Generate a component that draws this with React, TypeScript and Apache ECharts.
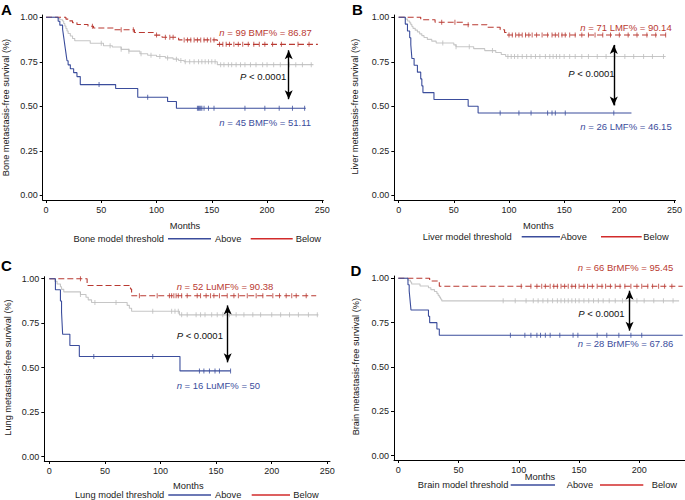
import React, { useEffect, useRef } from "react";
import * as echarts from "echarts";

type Pt = [number, number];

// ---- tick labels ----
const xTicksFull = [0, 50, 100, 150, 200, 250];
const xTicksD = [0, 50, 100, 150, 200];
const yTicks = [0, 0.25, 0.5, 0.75, 1];

// ---- Panel A: bone ----
const blueA: Pt[] = [[0, 1], [11, 0.978], [12.5, 0.956], [15, 0.933], [15.5, 0.911], [16, 0.889], [16.5, 0.867], [17, 0.844], [17.5, 0.822], [18, 0.8], [18.5, 0.778], [19, 0.756], [20, 0.733], [22, 0.711], [25, 0.689], [28, 0.667], [31, 0.622], [63, 0.6], [83, 0.551], [110, 0.527], [118, 0.489], [235, 0.489]];
const redA: Pt[] = [[0, 1], [18, 0.99], [21, 0.98], [24, 0.97], [28, 0.96], [38, 0.95], [43, 0.94], [62, 0.93], [80, 0.915], [97, 0.9], [105, 0.888], [120, 0.873], [155, 0.848], [246, 0.848]];
const grayA: Pt[] = [[0, 1], [11, 0.993], [12.5, 0.986], [15, 0.979], [16, 0.965], [17, 0.951], [18, 0.937], [19, 0.923], [20, 0.909], [22, 0.895], [24, 0.881], [26, 0.868], [40, 0.854], [52, 0.84], [60, 0.833], [68, 0.82], [75, 0.81], [85, 0.795], [92, 0.787], [100, 0.78], [108, 0.772], [115, 0.765], [120, 0.757], [125, 0.75], [155, 0.734], [242, 0.734]];
const blueCensA = [48, 92, 137, 138, 139, 140, 141, 143, 147, 152, 180, 198, 211, 223, 234];
const redCensA = [42, 68, 79, 100, 108, 112, 115, 125, 128, 131, 134, 137, 140, 143, 146, 149, 152, 157, 160, 163, 166, 170, 174, 178, 183, 188, 193, 198, 205, 213, 228, 238];
const grayCensA = [50, 58, 68, 75, 86, 95, 103, 110, 118, 122, 126, 130, 134, 138, 141, 144, 147, 150, 153, 158, 161, 165, 168, 172, 176, 180, 185, 190, 196, 200, 206, 212, 220, 226, 232, 240];

// ---- Panel B: liver ----
const blueB: Pt[] = [[0, 1], [6, 0.962], [8, 0.923], [10, 0.885], [11, 0.846], [11.5, 0.808], [12, 0.769], [14, 0.731], [17, 0.692], [20, 0.654], [21, 0.615], [22, 0.577], [32, 0.538], [63, 0.5], [72, 0.462], [211, 0.462]];
const redB: Pt[] = [[0, 1], [20, 0.986], [33, 0.972], [58, 0.958], [80, 0.944], [92, 0.93], [96, 0.915], [98, 0.901], [243, 0.901]];
const grayB: Pt[] = [[0, 1], [6, 0.99], [8, 0.979], [10, 0.969], [11, 0.959], [12, 0.948], [13, 0.938], [15, 0.928], [17, 0.918], [19, 0.907], [21, 0.897], [23, 0.887], [26, 0.876], [30, 0.866], [34, 0.856], [50, 0.845], [52, 0.835], [68, 0.824], [78, 0.813], [88, 0.802], [93, 0.791], [97, 0.78], [242, 0.78]];
const blueCensB = [92, 109, 120, 135, 139, 142, 151, 195];
const redCensB = [39, 51, 63, 100, 103, 106, 109, 112, 115, 118, 121, 125, 130, 135, 139, 142, 145, 148, 151, 155, 160, 166, 172, 178, 185, 192, 200, 208, 216, 225, 233, 242];
const grayCensB = [40, 52, 64, 85, 99, 102, 105, 108, 112, 116, 120, 124, 128, 133, 137, 140, 143, 146, 150, 155, 160, 166, 172, 180, 188, 196, 205, 213, 222, 230, 240];

// ---- Panel C: lung ----
const blueC: Pt[] = [[0, 1], [5.5, 0.9375], [10, 0.875], [11, 0.8125], [11.5, 0.75], [12, 0.6875], [18.5, 0.625], [27, 0.5625], [117.5, 0.482], [163, 0.482]];
const redC: Pt[] = [[0, 1], [34, 0.962], [73, 0.942], [74, 0.904], [240, 0.904]];
const grayC: Pt[] = [[0, 1], [5, 0.985], [7, 0.97], [10, 0.955], [11, 0.94], [13, 0.926], [28, 0.911], [33, 0.896], [35, 0.881], [38, 0.866], [70, 0.85], [72, 0.834], [74, 0.817], [117, 0.797], [242, 0.797]];
const blueCensC = [40, 93, 135, 139, 144, 149, 153, 163];
const redCensC = [28, 81, 97, 108, 110, 112, 114, 116, 119, 124, 133, 136, 141, 145, 148, 153, 160, 166, 170, 178, 186, 192, 201, 207, 213, 218, 222, 231];
const grayCensC = [28, 41, 60, 93, 110, 113, 116, 119, 124, 132, 136, 140, 146, 151, 156, 162, 168, 175, 183, 190, 200, 208, 216, 224, 233, 241];

// ---- Panel D: brain ----
const blueD: Pt[] = [[0, 1], [8, 0.964], [9, 0.929], [9.5, 0.893], [10, 0.857], [10.5, 0.821], [25, 0.786], [26, 0.75], [32, 0.714], [34, 0.679], [236, 0.679]];
const redD: Pt[] = [[0, 1], [26, 0.985], [34, 0.955], [236, 0.955]];
const grayD: Pt[] = [[0, 1], [8, 0.989], [10, 0.979], [11, 0.968], [18, 0.957], [25, 0.947], [27, 0.936], [30, 0.926], [32, 0.915], [33, 0.904], [34, 0.894], [35, 0.883], [36, 0.873], [233, 0.873]];
const blueCensD = [93, 105, 110, 115, 118, 122, 126, 134, 145, 149, 165, 173, 183, 193, 202];
const redCensD = [102, 110, 115, 119, 122, 126, 129, 132, 135, 138, 141, 144, 147, 150, 154, 157, 161, 165, 169, 172, 176, 180, 184, 188, 193, 198, 202, 207, 211, 216, 221, 227];
const grayCensD = [87, 97, 106, 112, 116, 120, 124, 128, 132, 135, 138, 141, 144, 147, 150, 154, 158, 162, 166, 170, 175, 180, 186, 192, 198, 204, 212, 220, 228];

// ---- texts ----
const panelLetters = ["A", "B", "C", "D"];
const yTitles = [
  "Bone metastasis-free survival (%)",
  "Liver metastasis-free survival (%)",
  "Lung metastasis-free survival (%)",
  "Brain metastasis-free survival (%)",
];
const legendTitles = ["Bone model threshold", "Liver model threshold", "Lung model threshold", "Brain model threshold"];
const redNotes = [" = 99 BMF% = 86.87", " = 71 LMF% = 90.14", " = 52 LuMF% = 90.38", " = 66 BrMF% = 95.45"];
const blueNotes = [" = 45 BMF% = 51.11", " = 26 LMF% = 46.15", " = 16 LuMF% = 50", " = 28 BrMF% = 67.86"];
// arrow: [months, top value, bottom value]
const arrows: [number, number, number][] = [
  [219.6, 0.815, 0.54],
  [195, 0.845, 0.505],
  [160.4, 0.85, 0.53],
  [191.9, 0.93, 0.705],
];

const BLUE = "#3B4D9C";
const RED = "#B93A32";
const LEG_RED = "#D22B2B";
const GRAY = "#C6C6C6";
const FONT = "'Liberation Sans', Arial, Helvetica, sans-serif";

// layout (pixels) per panel
const layout = [
  {
    grid: { left: 42.7, top: 15, width: 280.6, height: 185 }, xMin: -3.0, xMax: 250.9, yMin: -0.0264, yMax: 1.013, xt: xTicksFull,
    letter: [1, 9], yTitle: [5.5, 107.5], months: [185, 225.7], legY: 238.7,
    leg: { titleRight: 164, b1: 168, b2: 211, aboveX: 215, r1: 250.7, r2: 292.7, belowX: 295.7 },
    redNote: { x: 311.7, y: 32.3, align: "right" }, blueNote: { x: 311, y: 122.7, align: "right" }, p: { x: 240, y: 76 },
  },
  {
    grid: { left: 394.3, top: 15, width: 284, height: 185 }, xMin: -3.95, xMax: 250.9, yMin: -0.0264, yMax: 1.013, xt: xTicksFull,
    letter: [352, 9.5], yTitle: [354.5, 106.7], months: [538.3, 225.7], legY: 236.7,
    leg: { titleRight: 511.7, b1: 521.7, b2: 560, aboveX: 560.5, r1: 601, r2: 641.7, belowX: 643.3 },
    redNote: { x: 671.7, y: 27.3, align: "right" }, blueNote: { x: 671.7, y: 126, align: "right" }, p: { x: 568.3, y: 73.3 },
  },
  {
    grid: { left: 44.3, top: 276.7, width: 285.7, height: 184.3 }, xMin: -4.5, xMax: 252.4, yMin: -0.0242, yMax: 1.0112, xt: xTicksFull,
    letter: [1, 265.3], yTitle: [7.5, 367.5], months: [188.3, 486], legY: 495,
    leg: { titleRight: 164.3, b1: 168.3, b2: 211, aboveX: 215, r1: 251.7, r2: 290, belowX: 293.3 },
    redNote: { x: 176.7, y: 286.7, align: "left" }, blueNote: { x: 176.7, y: 385, align: "left" }, p: { x: 176.7, y: 335 },
  },
  {
    grid: { left: 394, top: 276, width: 291, height: 184 }, xMin: -3.6, xMax: 237.9, yMin: -0.0242, yMax: 1.013, xt: xTicksD,
    letter: [350.5, 270.5], yTitle: [356, 366.7], months: [540, 476.7], legY: 485,
    leg: { titleRight: 508.3, b1: 510.7, b2: 555, aboveX: 566.7, r1: 600, r2: 643.3, belowX: 651.7 },
    redNote: { x: 673.3, y: 267.7, align: "right" }, blueNote: { x: 673.3, y: 343.3, align: "right" }, p: { x: 578.3, y: 313.3 },
  },
];

const curves = [
  { blue: blueA, red: redA, gray: grayA, bc: blueCensA, rc: redCensA, gc: grayCensA },
  { blue: blueB, red: redB, gray: grayB, bc: blueCensB, rc: redCensB, gc: grayCensB },
  { blue: blueC, red: redC, gray: grayC, bc: blueCensC, rc: redCensC, gc: grayCensC },
  { blue: blueD, red: redD, gray: grayD, bc: blueCensD, rc: redCensD, gc: grayCensD },
];

function stepAt(curve: Pt[], t: number): number {
  let s = curve[0][1];
  for (const p of curve) {
    if (p[0] <= t) s = p[1];
    else break;
  }
  return s;
}

function noteText(x: number, y: number, align: string, lead: string, rest: string, color: string) {
  return {
    type: "text",
    x,
    y,
    silent: true,
    style: {
      text: `{i|${lead}}{r|${rest}}`,
      align,
      textAlign: align,
      verticalAlign: "middle",
      textVerticalAlign: "middle",
      fill: color,
      font: `9.5px ${FONT}`,
      rich: {
        i: { fontStyle: "italic", fontSize: 9.5, fontFamily: FONT, fill: color },
        r: { fontSize: 9.5, fontFamily: FONT, fill: color },
      },
    },
  };
}

function plainText(x: number, y: number, text: string, opts: any = {}) {
  return {
    type: "text",
    x,
    y,
    rotation: opts.rotation || 0,
    silent: true,
    style: {
      text,
      align: opts.align || "left",
      textAlign: opts.align || "left",
      verticalAlign: opts.va || "middle",
      textVerticalAlign: opts.va || "middle",
      fill: opts.fill || "#222",
      font: opts.font || `9.3px ${FONT}`,
    },
  };
}

export default function App() {
  const ref = useRef<HTMLDivElement>(null);

  useEffect(() => {
    if (!ref.current) return;
    const chart = echarts.init(ref.current, undefined, { renderer: "svg" });

    const grids: any[] = [];
    const xAxes: any[] = [];
    const yAxes: any[] = [];
    const series: any[] = [];
    const graphics: any[] = [];

    layout.forEach((L, i) => {
      const C = curves[i];
      grids.push({ ...L.grid, containLabel: false });
      xAxes.push({
        type: "value",
        gridIndex: i,
        min: L.xMin,
        max: L.xMax,
        axisLine: { show: true, onZero: false, lineStyle: { color: "#000", width: 1 } },
        axisTick: { show: true, length: 3, customValues: L.xt, lineStyle: { color: "#000" } },
        axisLabel: { customValues: L.xt, fontSize: 9, fontFamily: FONT, color: "#222", margin: 5 },
        splitLine: { show: false },
      });
      yAxes.push({
        type: "value",
        gridIndex: i,
        min: L.yMin,
        max: L.yMax,
        axisLine: { show: true, onZero: false, lineStyle: { color: "#000", width: 1 } },
        axisTick: { show: true, length: 3, customValues: yTicks, lineStyle: { color: "#000" } },
        axisLabel: {
          customValues: yTicks,
          fontSize: 9,
          fontFamily: FONT,
          color: "#222",
          margin: 5,
          formatter: (v: number) => v.toFixed(2),
        },
        splitLine: { show: false },
      });

      const lineBase = { type: "line", xAxisIndex: i, yAxisIndex: i, step: "end", symbol: "none", silent: true, z: 3 };
      series.push({
        ...lineBase,
        name: "Overall",
        data: C.gray,
        lineStyle: { color: GRAY, width: 1.1 },
        z: 2,
        markLine: {
          silent: true,
          symbol: ["arrow", "arrow"],
          symbolSize: [6, 9],
          label: { show: false },
          lineStyle: { color: "#000", width: 1.4, type: "solid" },
          data: [[{ coord: [arrows[i][0], arrows[i][1]] }, { coord: [arrows[i][0], arrows[i][2]] }]],
        },
      });
      series.push({ ...lineBase, name: "Below", data: C.red, lineStyle: { color: RED, width: 1.1, type: [6, 3] } });
      series.push({ ...lineBase, name: "Above", data: C.blue, lineStyle: { color: BLUE, width: 1.1 } });

      const cens = (times: number[], curve: Pt[], color: string, z: number) => ({
        type: "scatter",
        xAxisIndex: i,
        yAxisIndex: i,
        silent: true,
        symbol: "rect",
        symbolSize: [1, 5],
        itemStyle: { color },
        z,
        data: times.map((t) => [t, stepAt(curve, t)]),
      });
      series.push(cens(C.gc, C.gray, "#BDBDBD", 2));
      series.push(cens(C.rc, C.red, RED, 3));
      series.push(cens(C.bc, C.blue, BLUE, 3));

      // texts
      graphics.push(plainText(L.letter[0], L.letter[1], panelLetters[i], { font: `bold 15px ${FONT}`, fill: "#000" }));
      graphics.push(
        plainText(L.yTitle[0], L.yTitle[1], yTitles[i], { rotation: Math.PI / 2, align: "center", font: `9.2px ${FONT}` })
      );
      graphics.push(plainText(L.months[0], L.months[1], "Months", { align: "center", font: `9.3px ${FONT}` }));
      graphics.push(plainText(L.leg.titleRight, L.legY, legendTitles[i], { align: "right", font: `9.3px ${FONT}` }));
      graphics.push({
        type: "line",
        silent: true,
        shape: { x1: L.leg.b1, y1: L.legY, x2: L.leg.b2, y2: L.legY },
        style: { stroke: BLUE, lineWidth: 1.6 },
      });
      graphics.push(plainText(L.leg.aboveX, L.legY, "Above", { font: `9.3px ${FONT}` }));
      graphics.push({
        type: "line",
        silent: true,
        shape: { x1: L.leg.r1, y1: L.legY, x2: L.leg.r2, y2: L.legY },
        style: { stroke: LEG_RED, lineWidth: 1.6 },
      });
      graphics.push(plainText(L.leg.belowX, L.legY, "Below", { font: `9.3px ${FONT}` }));

      graphics.push(noteText(L.redNote.x, L.redNote.y, L.redNote.align, "n", redNotes[i], RED));
      graphics.push(noteText(L.blueNote.x, L.blueNote.y, L.blueNote.align, "n", blueNotes[i], BLUE));
      graphics.push(noteText(L.p.x, L.p.y, "left", "P", " < 0.0001", "#111"));
    });

    chart.setOption({
      animation: false,
      backgroundColor: "#fff",
      grid: grids,
      xAxis: xAxes,
      yAxis: yAxes,
      series,
      graphic: graphics,
    });

    return () => chart.dispose();
  }, []);

  return (
    <div
      ref={ref}
      style={{ position: "fixed", left: 0, top: 0, width: 685, height: 500, background: "#fff" }}
    />
  );
}
